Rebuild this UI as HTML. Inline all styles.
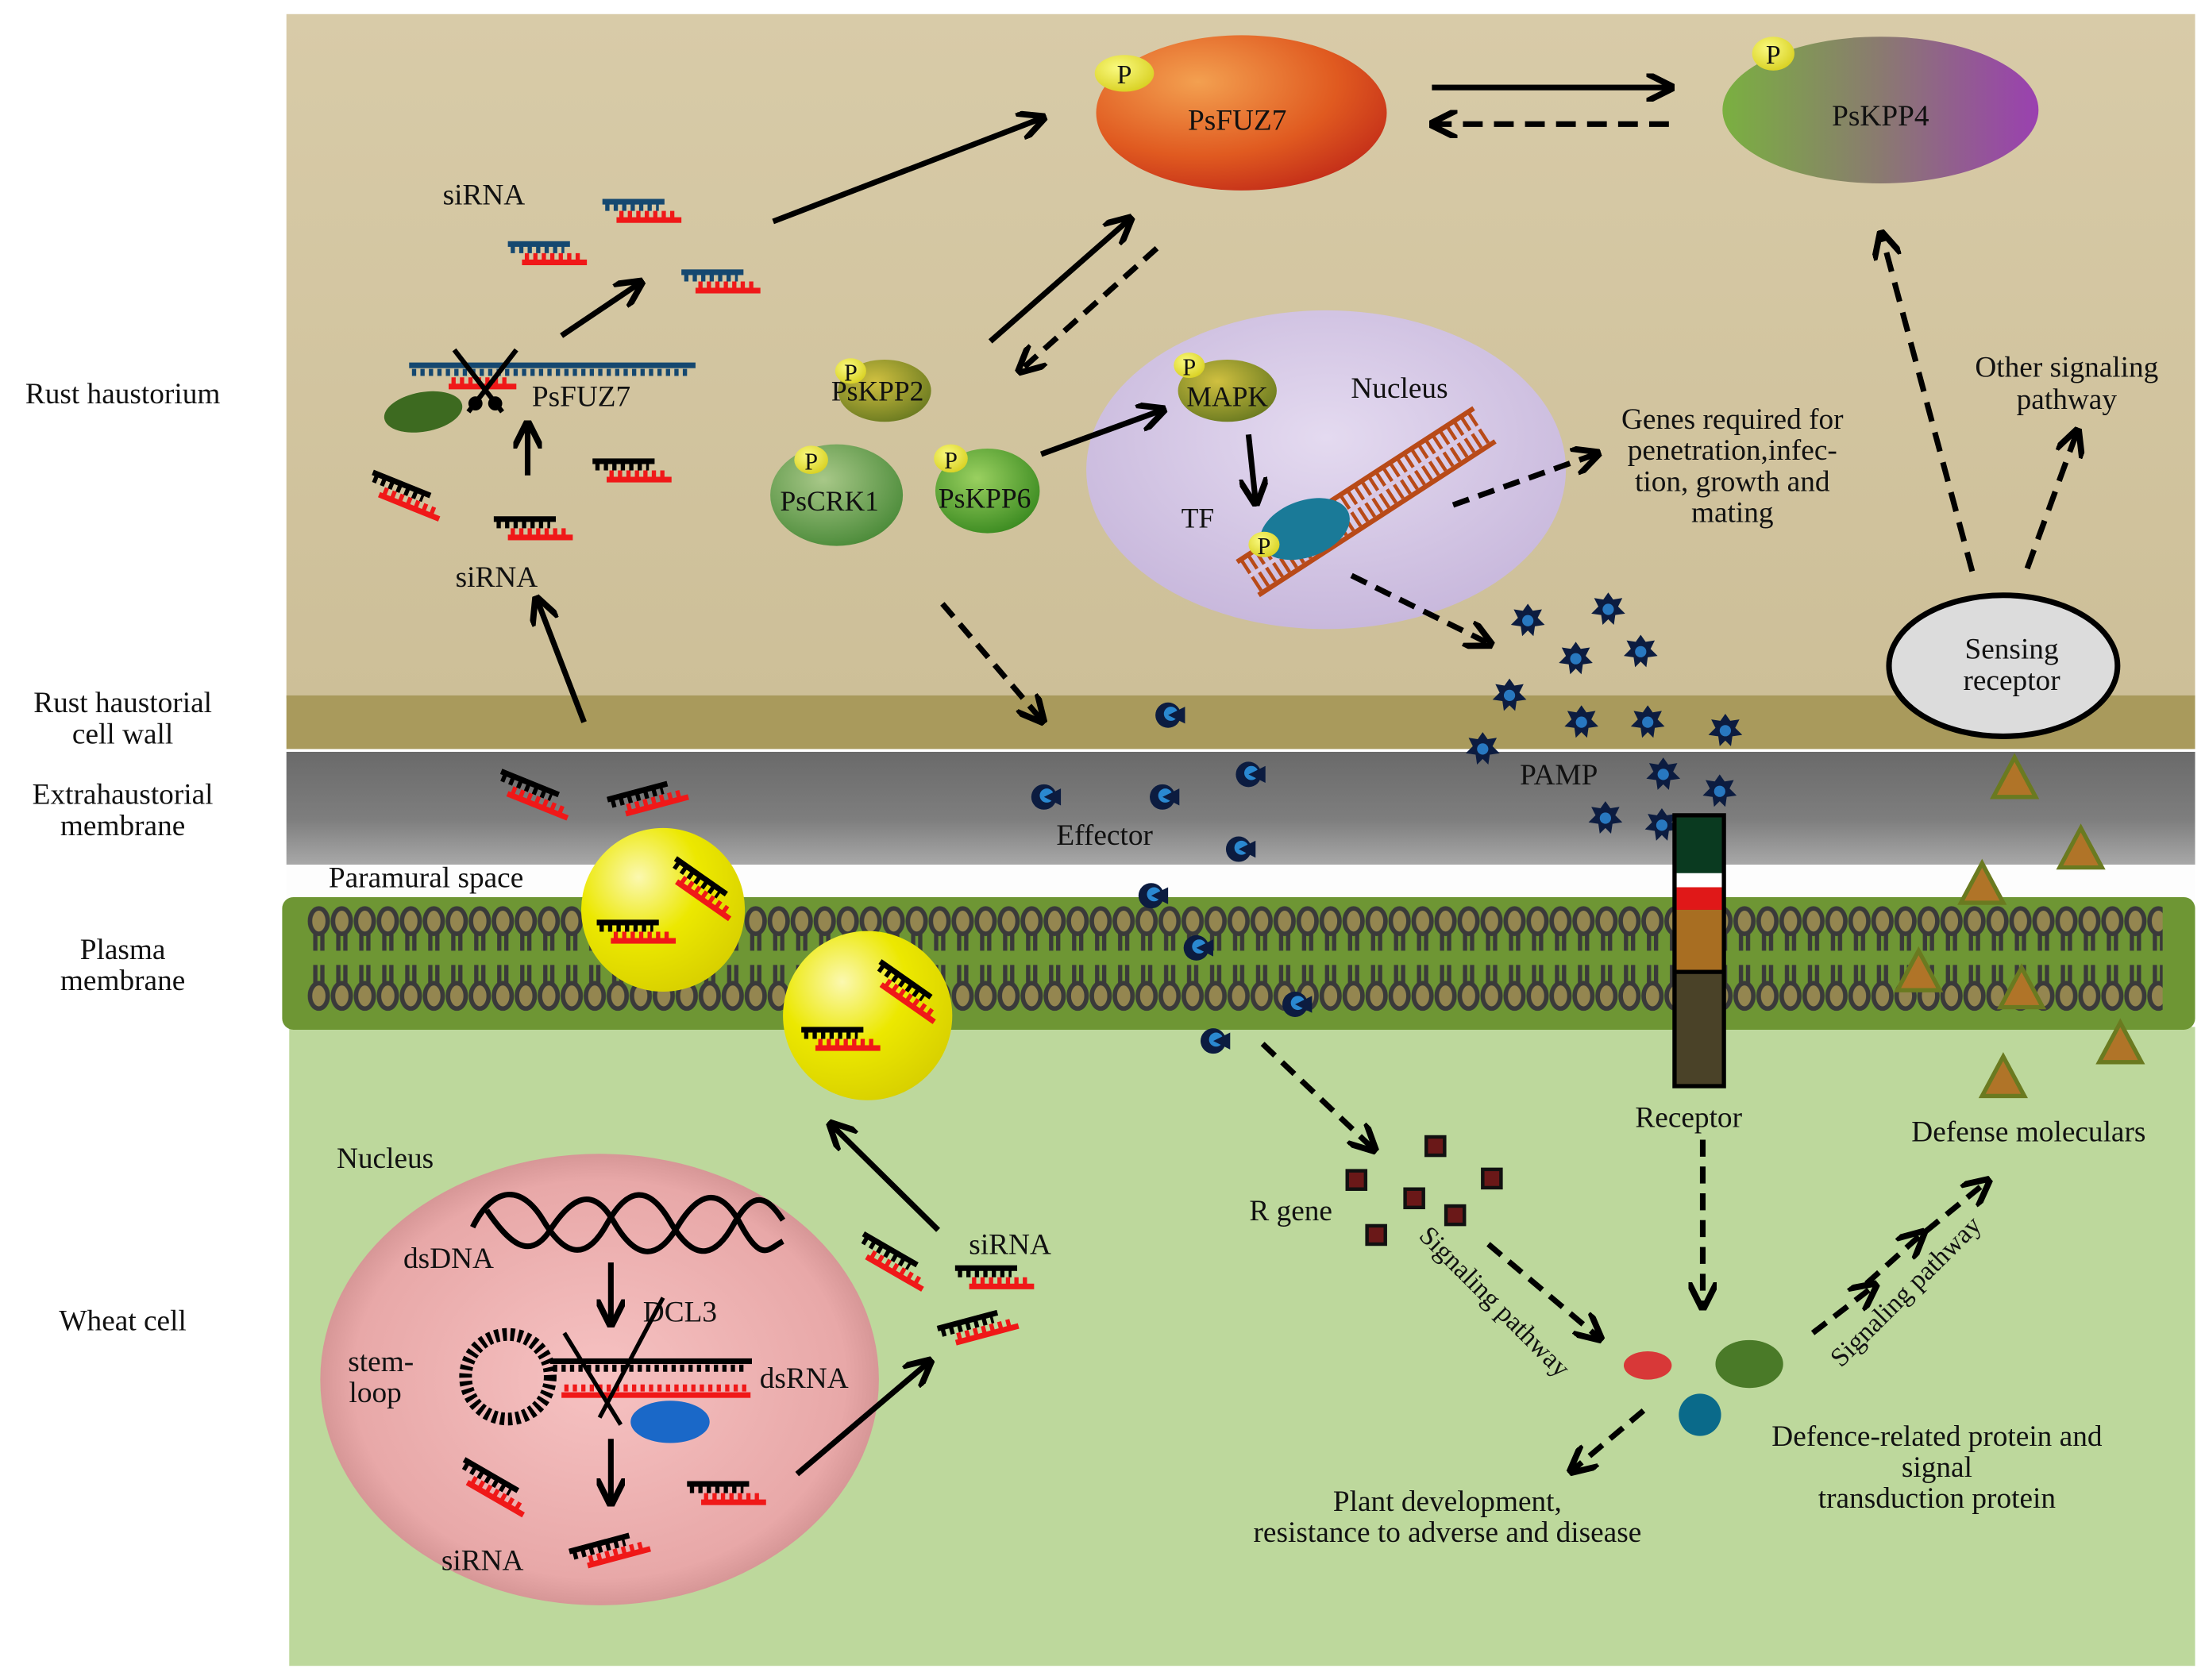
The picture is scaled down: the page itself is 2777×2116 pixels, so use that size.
<!DOCTYPE html>
<html><head><meta charset="utf-8"><style>html,body{margin:0;padding:0;background:#fff}svg{display:block}svg text{font-family:"Liberation Serif","Times New Roman",serif;fill:#111}</style></head>
<body>
<svg width="2777" height="2116" viewBox="0 0 1563 1191" xmlns="http://www.w3.org/2000/svg" font-family="Liberation Serif, serif">
<defs>
<marker id="ah" viewBox="0 0 10 10" refX="8" refY="5" markerWidth="5" markerHeight="5" orient="auto-start-reverse"><path d="M0,0 L10,5 L0,10" fill="none" stroke="#000" stroke-width="2.2"/></marker>
<linearGradient id="gTop" x1="0" y1="0" x2="0" y2="1"><stop offset="0" stop-color="#d8cba8"/><stop offset="1" stop-color="#cdbf98"/></linearGradient>
<linearGradient id="gEhm" x1="0" y1="0" x2="0" y2="1"><stop offset="0" stop-color="#6a6a6a"/><stop offset="0.6" stop-color="#7e7e7e"/><stop offset="1" stop-color="#a8a8a8"/></linearGradient>
<radialGradient id="gFuz" cx="0.35" cy="0.3" r="0.8"><stop offset="0" stop-color="#f3a050"/><stop offset="0.6" stop-color="#e05a20"/><stop offset="1" stop-color="#c02818"/></radialGradient>
<linearGradient id="gKpp4" x1="0" y1="0" x2="1" y2="0"><stop offset="0" stop-color="#7ab040"/><stop offset="0.5" stop-color="#8a7a70"/><stop offset="1" stop-color="#9a40b0"/></linearGradient>
<radialGradient id="gGreen" cx="0.4" cy="0.35" r="0.7"><stop offset="0" stop-color="#9ad060"/><stop offset="1" stop-color="#3a8a20"/></radialGradient>
<radialGradient id="gCrk" cx="0.4" cy="0.35" r="0.7"><stop offset="0" stop-color="#a8c888"/><stop offset="1" stop-color="#4a8a38"/></radialGradient>
<radialGradient id="gKpp2" cx="0.4" cy="0.35" r="0.7"><stop offset="0" stop-color="#d0c040"/><stop offset="1" stop-color="#6a7a20"/></radialGradient>
<radialGradient id="gNuc" cx="0.5" cy="0.4" r="0.6"><stop offset="0" stop-color="#e4daf0"/><stop offset="1" stop-color="#c8b8dc"/></radialGradient>
<radialGradient id="gPink" cx="0.5" cy="0.5" r="0.55"><stop offset="0" stop-color="#f6c2c2"/><stop offset="0.8" stop-color="#e8a8a8"/><stop offset="1" stop-color="#c88888"/></radialGradient>
<radialGradient id="gYel" cx="0.35" cy="0.3" r="0.75"><stop offset="0" stop-color="#fbf8b0"/><stop offset="0.5" stop-color="#ece800"/><stop offset="1" stop-color="#d8d000"/></radialGradient>
<radialGradient id="gP" cx="0.4" cy="0.35" r="0.7"><stop offset="0" stop-color="#fafa80"/><stop offset="1" stop-color="#d8d020"/></radialGradient>
<g id="dupK"><rect x="0" y="0" width="44" height="4" fill="#000"/><line x1="2" y1="6" x2="40" y2="6" stroke="#000" stroke-width="5" stroke-dasharray="3 3"/><line x1="12" y1="11" x2="52" y2="11" stroke="#f01818" stroke-width="5" stroke-dasharray="3 3"/><rect x="10" y="13" width="46" height="4" fill="#f01818"/></g>
<g id="dupB"><rect x="0" y="0" width="44" height="4" fill="#154870"/><line x1="2" y1="6" x2="40" y2="6" stroke="#154870" stroke-width="5" stroke-dasharray="3 3"/><line x1="12" y1="11" x2="52" y2="11" stroke="#f01818" stroke-width="5" stroke-dasharray="3 3"/><rect x="10" y="13" width="46" height="4" fill="#f01818"/></g>
<g id="star"><polygon points="0,-12 3.5,-7 10,-8 7,-2 12,3 5,4 4,11 0,7 -4,11 -5,4 -12,3 -7,-2 -10,-8 -3.5,-7" fill="#0c1c40"/><circle r="4" fill="#2878c0"/></g>
<g id="eff"><circle r="9" fill="#0c1c40"/><circle r="5" cx="2" cy="-1" fill="#2a88d0"/><path d="M0,0 L12,-6 L12,6Z" fill="#0c1c40"/></g>
<g id="tri"><polygon points="0,-16 15,12 -15,12" fill="#b07428" stroke="#6a7a20" stroke-width="3"/></g>
<pattern id="lipTop" x="218" y="638" width="16.3" height="50" patternUnits="userSpaceOnUse"><ellipse cx="8" cy="15" rx="6.3" ry="9" fill="#948650" stroke="#3a3a3a" stroke-width="3.2"/><rect x="4" y="23" width="3" height="13" fill="#3a3a3a"/><rect x="9" y="23" width="3" height="13" fill="#3a3a3a"/></pattern>
<pattern id="lipBot" x="218" y="680" width="16.3" height="50" patternUnits="userSpaceOnUse"><rect x="4" y="4" width="3" height="14" fill="#3a3a3a"/><rect x="9" y="4" width="3" height="14" fill="#3a3a3a"/><ellipse cx="8" cy="26" rx="6.3" ry="9" fill="#948650" stroke="#3a3a3a" stroke-width="3.2"/></pattern>
</defs>

<rect width="1563" height="1191" fill="#fff"/>
<rect x="203" y="10" width="1353" height="485" fill="url(#gTop)"/>
<rect x="203" y="493" width="1353" height="38" fill="#a99a5c"/>
<rect x="203" y="533" width="1353" height="80" fill="url(#gEhm)"/>
<rect x="203" y="613" width="1353" height="25" fill="#fdfdfd"/>
<rect x="205" y="728" width="1351" height="453" fill="#bdd89c"/>
<rect x="200" y="636" width="1356" height="94" rx="8" fill="#6e9634"/>
<rect x="218" y="638" width="1315" height="46" fill="url(#lipTop)"/>
<rect x="218" y="684" width="1315" height="44" fill="url(#lipBot)"/>

<g font-size="21" text-anchor="middle">
<text x="87" y="286">Rust haustorium</text>
<text x="87" y="505">Rust haustorial</text><text x="87" y="527">cell wall</text>
<text x="87" y="570">Extrahaustorial</text><text x="87" y="592">membrane</text>
<text x="87" y="680">Plasma</text><text x="87" y="702">membrane</text>
<text x="87" y="943">Wheat cell</text>
</g>

<ellipse cx="880" cy="80" rx="103" ry="55" fill="url(#gFuz)"/>
<ellipse cx="797" cy="52" rx="21" ry="13" fill="url(#gP)"/><text x="797" y="59" font-size="19" text-anchor="middle">P</text>
<text x="877" y="92" font-size="21" text-anchor="middle">PsFUZ7</text>
<ellipse cx="1333" cy="78" rx="112" ry="52" fill="url(#gKpp4)"/>
<ellipse cx="1257" cy="38" rx="15" ry="12" fill="url(#gP)"/><text x="1257" y="45" font-size="19" text-anchor="middle">P</text>
<text x="1333" y="89" font-size="21" text-anchor="middle">PsKPP4</text>

<text x="343" y="145" font-size="21" text-anchor="middle">siRNA</text>
<use href="#dupB" x="427" y="141"/>
<use href="#dupB" x="360" y="171"/>
<use href="#dupB" x="483" y="191"/>
<rect x="290" y="257" width="203" height="4" fill="#154870"/>
<line x1="292" y1="264" x2="490" y2="264" stroke="#154870" stroke-width="5" stroke-dasharray="3 3"/>
<line x1="320" y1="270" x2="362" y2="270" stroke="#f01818" stroke-width="5" stroke-dasharray="3 3"/>
<rect x="318" y="272" width="48" height="4" fill="#f01818"/>
<line x1="322" y1="248" x2="356" y2="292" stroke="#000" stroke-width="3.5"/>
<line x1="366" y1="248" x2="332" y2="292" stroke="#000" stroke-width="3.5"/>
<circle cx="337" cy="286" r="5" fill="#000"/><circle cx="351" cy="286" r="5" fill="#000"/>
<ellipse cx="300" cy="292" rx="28" ry="14" fill="#3d6a20" transform="rotate(-10 300 292)"/>
<text x="412" y="288" font-size="21" text-anchor="middle">PsFUZ7</text>
<use href="#dupK" x="265" y="333" transform="rotate(22 265 333)"/>
<use href="#dupK" x="350" y="366"/>
<use href="#dupK" x="420" y="325"/>
<text x="352" y="416" font-size="21" text-anchor="middle">siRNA</text>

<ellipse cx="627" cy="277" rx="33" ry="22" fill="url(#gKpp2)"/>
<ellipse cx="603" cy="263" rx="11" ry="9" fill="url(#gP)"/><text x="603" y="270" font-size="17" text-anchor="middle">P</text>
<text x="622" y="284" font-size="20" text-anchor="middle">PsKPP2</text>
<ellipse cx="593" cy="351" rx="47" ry="36" fill="url(#gCrk)"/>
<ellipse cx="575" cy="326" rx="12" ry="10" fill="url(#gP)"/><text x="575" y="333" font-size="17" text-anchor="middle">P</text>
<text x="588" y="362" font-size="20" text-anchor="middle">PsCRK1</text>
<ellipse cx="700" cy="348" rx="37" ry="30" fill="url(#gGreen)"/>
<ellipse cx="674" cy="325" rx="12" ry="10" fill="url(#gP)"/><text x="674" y="332" font-size="17" text-anchor="middle">P</text>
<text x="698" y="360" font-size="20" text-anchor="middle">PsKPP6</text>

<ellipse cx="940" cy="333" rx="170" ry="113" fill="url(#gNuc)"/>
<ellipse cx="870" cy="277" rx="35" ry="22" fill="url(#gKpp2)"/>
<ellipse cx="843" cy="259" rx="11" ry="9" fill="url(#gP)"/><text x="843" y="266" font-size="17" text-anchor="middle">P</text>
<text x="870" y="288" font-size="20" text-anchor="middle">MAPK</text>
<text x="992" y="282" font-size="21" text-anchor="middle">Nucleus</text>
<text x="849" y="374" font-size="20" text-anchor="middle">TF</text>
<g transform="rotate(-33 968 355)">
<rect x="868" y="340" width="200" height="3.5" fill="#b84a18"/>
<rect x="868" y="368" width="200" height="3.5" fill="#b84a18"/>
<line x1="870" y1="355" x2="1066" y2="355" stroke="#b84a18" stroke-width="26" stroke-dasharray="2.5 3.5"/>
<line x1="870" y1="355" x2="1066" y2="355" stroke="#d8c8e4" stroke-width="3"/>
</g>
<ellipse cx="925" cy="375" rx="33" ry="20" fill="#1a7a98" transform="rotate(-20 925 375)"/>
<ellipse cx="896" cy="386" rx="11" ry="9" fill="url(#gP)"/><text x="896" y="393" font-size="17" text-anchor="middle">P</text>
<g font-size="21" text-anchor="middle"><text x="1228" y="304">Genes required for</text><text x="1228" y="326">penetration,infec-</text><text x="1228" y="348">tion, growth and</text><text x="1228" y="370">mating</text>
<text x="1465" y="267">Other signaling</text><text x="1465" y="290">pathway</text></g>

<use href="#star" x="1083" y="440"/><use href="#star" x="1140" y="432"/><use href="#star" x="1117" y="467"/><use href="#star" x="1163" y="462"/>
<use href="#star" x="1070" y="493"/><use href="#star" x="1121" y="512"/><use href="#star" x="1168" y="512"/><use href="#star" x="1223" y="518"/>
<use href="#star" x="1051" y="531"/><use href="#star" x="1179" y="549"/><use href="#star" x="1219" y="561"/><use href="#star" x="1138" y="580"/><use href="#star" x="1178" y="585"/>
<text x="1105" y="556" font-size="21" text-anchor="middle">PAMP</text>

<ellipse cx="1420" cy="472" rx="81" ry="50" fill="#dcdcdc" stroke="#000" stroke-width="4"/>
<text x="1426" y="467" font-size="21" text-anchor="middle">Sensing</text><text x="1426" y="489" font-size="21" text-anchor="middle">receptor</text>
<use href="#tri" x="1428" y="553"/><use href="#tri" x="1475" y="603"/><use href="#tri" x="1405" y="628"/><use href="#tri" x="1360" y="690"/><use href="#tri" x="1433" y="702"/><use href="#tri" x="1503" y="741"/><use href="#tri" x="1420" y="765"/>

<use href="#eff" x="828" y="507"/><use href="#eff" x="740" y="565"/><use href="#eff" x="824" y="565"/><use href="#eff" x="885" y="549"/><use href="#eff" x="878" y="602"/><use href="#eff" x="816" y="635"/><use href="#eff" x="848" y="672"/><use href="#eff" x="918" y="712"/><use href="#eff" x="860" y="738"/>
<text x="783" y="599" font-size="21" text-anchor="middle">Effector</text>

<rect x="1187" y="578" width="35" height="192" fill="#4a4228" stroke="#000" stroke-width="3"/>
<rect x="1188.5" y="579.5" width="32" height="40" fill="#0a3a20"/>
<rect x="1188.5" y="619" width="32" height="10" fill="#fff"/>
<rect x="1188.5" y="629" width="32" height="16" fill="#e01818"/>
<rect x="1188.5" y="645" width="32" height="43" fill="#a86e22"/>
<line x1="1187" y1="689" x2="1222" y2="689" stroke="#000" stroke-width="3"/>
<text x="1197" y="799" font-size="21" text-anchor="middle">Receptor</text>

<use href="#dupK" x="356" y="545" transform="rotate(22 356 545)"/>
<use href="#dupK" x="430" y="565" transform="rotate(-15 430 565)"/>
<text x="302" y="629" font-size="21" text-anchor="middle">Paramural space</text>
<circle cx="470" cy="645" r="58" fill="url(#gYel)"/>
<use href="#dupK" x="423" y="652"/>
<use href="#dupK" x="480" y="607" transform="rotate(35 480 607)"/>
<circle cx="615" cy="720" r="60" fill="url(#gYel)"/>
<use href="#dupK" x="568" y="728"/>
<use href="#dupK" x="625" y="680" transform="rotate(35 625 680)"/>

<ellipse cx="425" cy="978" rx="198" ry="160" fill="url(#gPink)"/>
<text x="273" y="828" font-size="21" text-anchor="middle">Nucleus</text>
<path d="M335,870 C350,840 370,840 385,865 S415,895 430,868 S460,840 475,866 S505,895 520,868 S545,850 555,865" fill="none" stroke="#000" stroke-width="4"/>
<path d="M345,858 C360,880 375,895 390,872 S420,840 435,866 S465,895 480,870 S510,840 525,868 S545,885 555,880" fill="none" stroke="#000" stroke-width="4"/>
<text x="318" y="899" font-size="21" text-anchor="middle">dsDNA</text>
<text x="482" y="937" font-size="21" text-anchor="middle">DCL3</text>
<text x="270" y="972" font-size="21" text-anchor="middle">stem-</text><text x="266" y="994" font-size="21" text-anchor="middle">loop</text>
<circle cx="360" cy="976" r="30" fill="none" stroke="#000" stroke-width="9" stroke-dasharray="3 2.5"/>
<rect x="390" y="963" width="143" height="4" fill="#000"/>
<line x1="392" y1="970" x2="530" y2="970" stroke="#000" stroke-width="5" stroke-dasharray="3 3"/>
<line x1="400" y1="984" x2="530" y2="984" stroke="#f01818" stroke-width="5" stroke-dasharray="3 3"/>
<rect x="398" y="987" width="134" height="4" fill="#f01818"/>
<line x1="400" y1="945" x2="440" y2="1010" stroke="#000" stroke-width="3"/>
<line x1="470" y1="920" x2="425" y2="1005" stroke="#000" stroke-width="3"/>
<ellipse cx="475" cy="1008" rx="28" ry="15" fill="#1a68c8"/>
<text x="570" y="984" font-size="21" text-anchor="middle">dsRNA</text>
<use href="#dupK" x="330" y="1033" transform="rotate(30 330 1033)"/>
<use href="#dupK" x="403" y="1098" transform="rotate(-15 403 1098)"/>
<use href="#dupK" x="487" y="1050"/>
<text x="342" y="1113" font-size="21" text-anchor="middle">siRNA</text>

<text x="716" y="889" font-size="21" text-anchor="middle">siRNA</text>
<use href="#dupK" x="613" y="873" transform="rotate(30 613 873)"/>
<use href="#dupK" x="677" y="897"/>
<use href="#dupK" x="664" y="940" transform="rotate(-15 664 940)"/>

<g fill="#6a1818" stroke="#111" stroke-width="2.5">
<rect x="955" y="830" width="13" height="13"/><rect x="1011" y="806" width="13" height="13"/><rect x="1051" y="829" width="13" height="13"/><rect x="996" y="843" width="13" height="13"/><rect x="1025" y="855" width="13" height="13"/><rect x="969" y="869" width="13" height="13"/>
</g>
<text x="915" y="865" font-size="21" text-anchor="middle">R gene</text>
<text x="0" y="0" font-size="19" transform="translate(1005 877) rotate(45)">Signaling pathway</text>
<text x="0" y="0" font-size="19" transform="translate(1305 970) rotate(-45)">Signaling pathway</text>
<ellipse cx="1168" cy="968" rx="17" ry="10" fill="#d83838"/>
<ellipse cx="1240" cy="967" rx="24" ry="17" fill="#4a7a28"/>
<circle cx="1205" cy="1003" r="15" fill="#0a6a8a"/>
<g font-size="21" text-anchor="middle">
<text x="1026" y="1071">Plant development,</text><text x="1026" y="1093">resistance to adverse and disease</text>
<text x="1438" y="809">Defense moleculars</text>
<text x="1373" y="1025">Defence-related protein and</text><text x="1373" y="1047">signal</text><text x="1373" y="1069">transduction protein</text>
</g>

<g stroke="#000" stroke-width="4" fill="none" marker-end="url(#ah)">
<line x1="1015" y1="62" x2="1183" y2="62"/>
<line x1="1183" y1="88" x2="1017" y2="88" stroke-dasharray="14 8"/>
<line x1="548" y1="157" x2="738" y2="84"/>
<line x1="398" y1="238" x2="453" y2="201"/>
<line x1="374" y1="337" x2="374" y2="302"/>
<line x1="414" y1="512" x2="381" y2="426"/>
<line x1="702" y1="242" x2="800" y2="156"/>
<line x1="820" y1="176" x2="724" y2="262" stroke-dasharray="12 7"/>
<line x1="738" y1="322" x2="823" y2="291"/>
<line x1="885" y1="308" x2="890" y2="355"/>
<line x1="1030" y1="358" x2="1131" y2="322" stroke-dasharray="12 7"/>
<line x1="958" y1="408" x2="1055" y2="456" stroke-dasharray="12 7"/>
<line x1="668" y1="428" x2="738" y2="510" stroke-dasharray="12 7"/>
<line x1="1398" y1="405" x2="1334" y2="167" stroke-dasharray="14 8"/>
<line x1="1437" y1="403" x2="1472" y2="307" stroke-dasharray="14 8"/>
<line x1="665" y1="872" x2="590" y2="798"/>
<line x1="433" y1="895" x2="433" y2="937"/>
<line x1="433" y1="1020" x2="433" y2="1064"/>
<line x1="565" y1="1045" x2="658" y2="966"/>
<line x1="895" y1="740" x2="973" y2="814" stroke-dasharray="12 7"/>
<line x1="1055" y1="882" x2="1133" y2="948" stroke-dasharray="12 7"/>
<line x1="1207" y1="808" x2="1207" y2="925" stroke-dasharray="12 7"/>
<line x1="1165" y1="1000" x2="1115" y2="1042" stroke-dasharray="12 7"/>
<line x1="1285" y1="945" x2="1328" y2="912" stroke-dasharray="12 7"/>
<line x1="1323" y1="910" x2="1362" y2="875" stroke-dasharray="12 7"/>
<line x1="1365" y1="873" x2="1408" y2="838" stroke-dasharray="12 7"/>
</g>
</svg>
</body></html>
